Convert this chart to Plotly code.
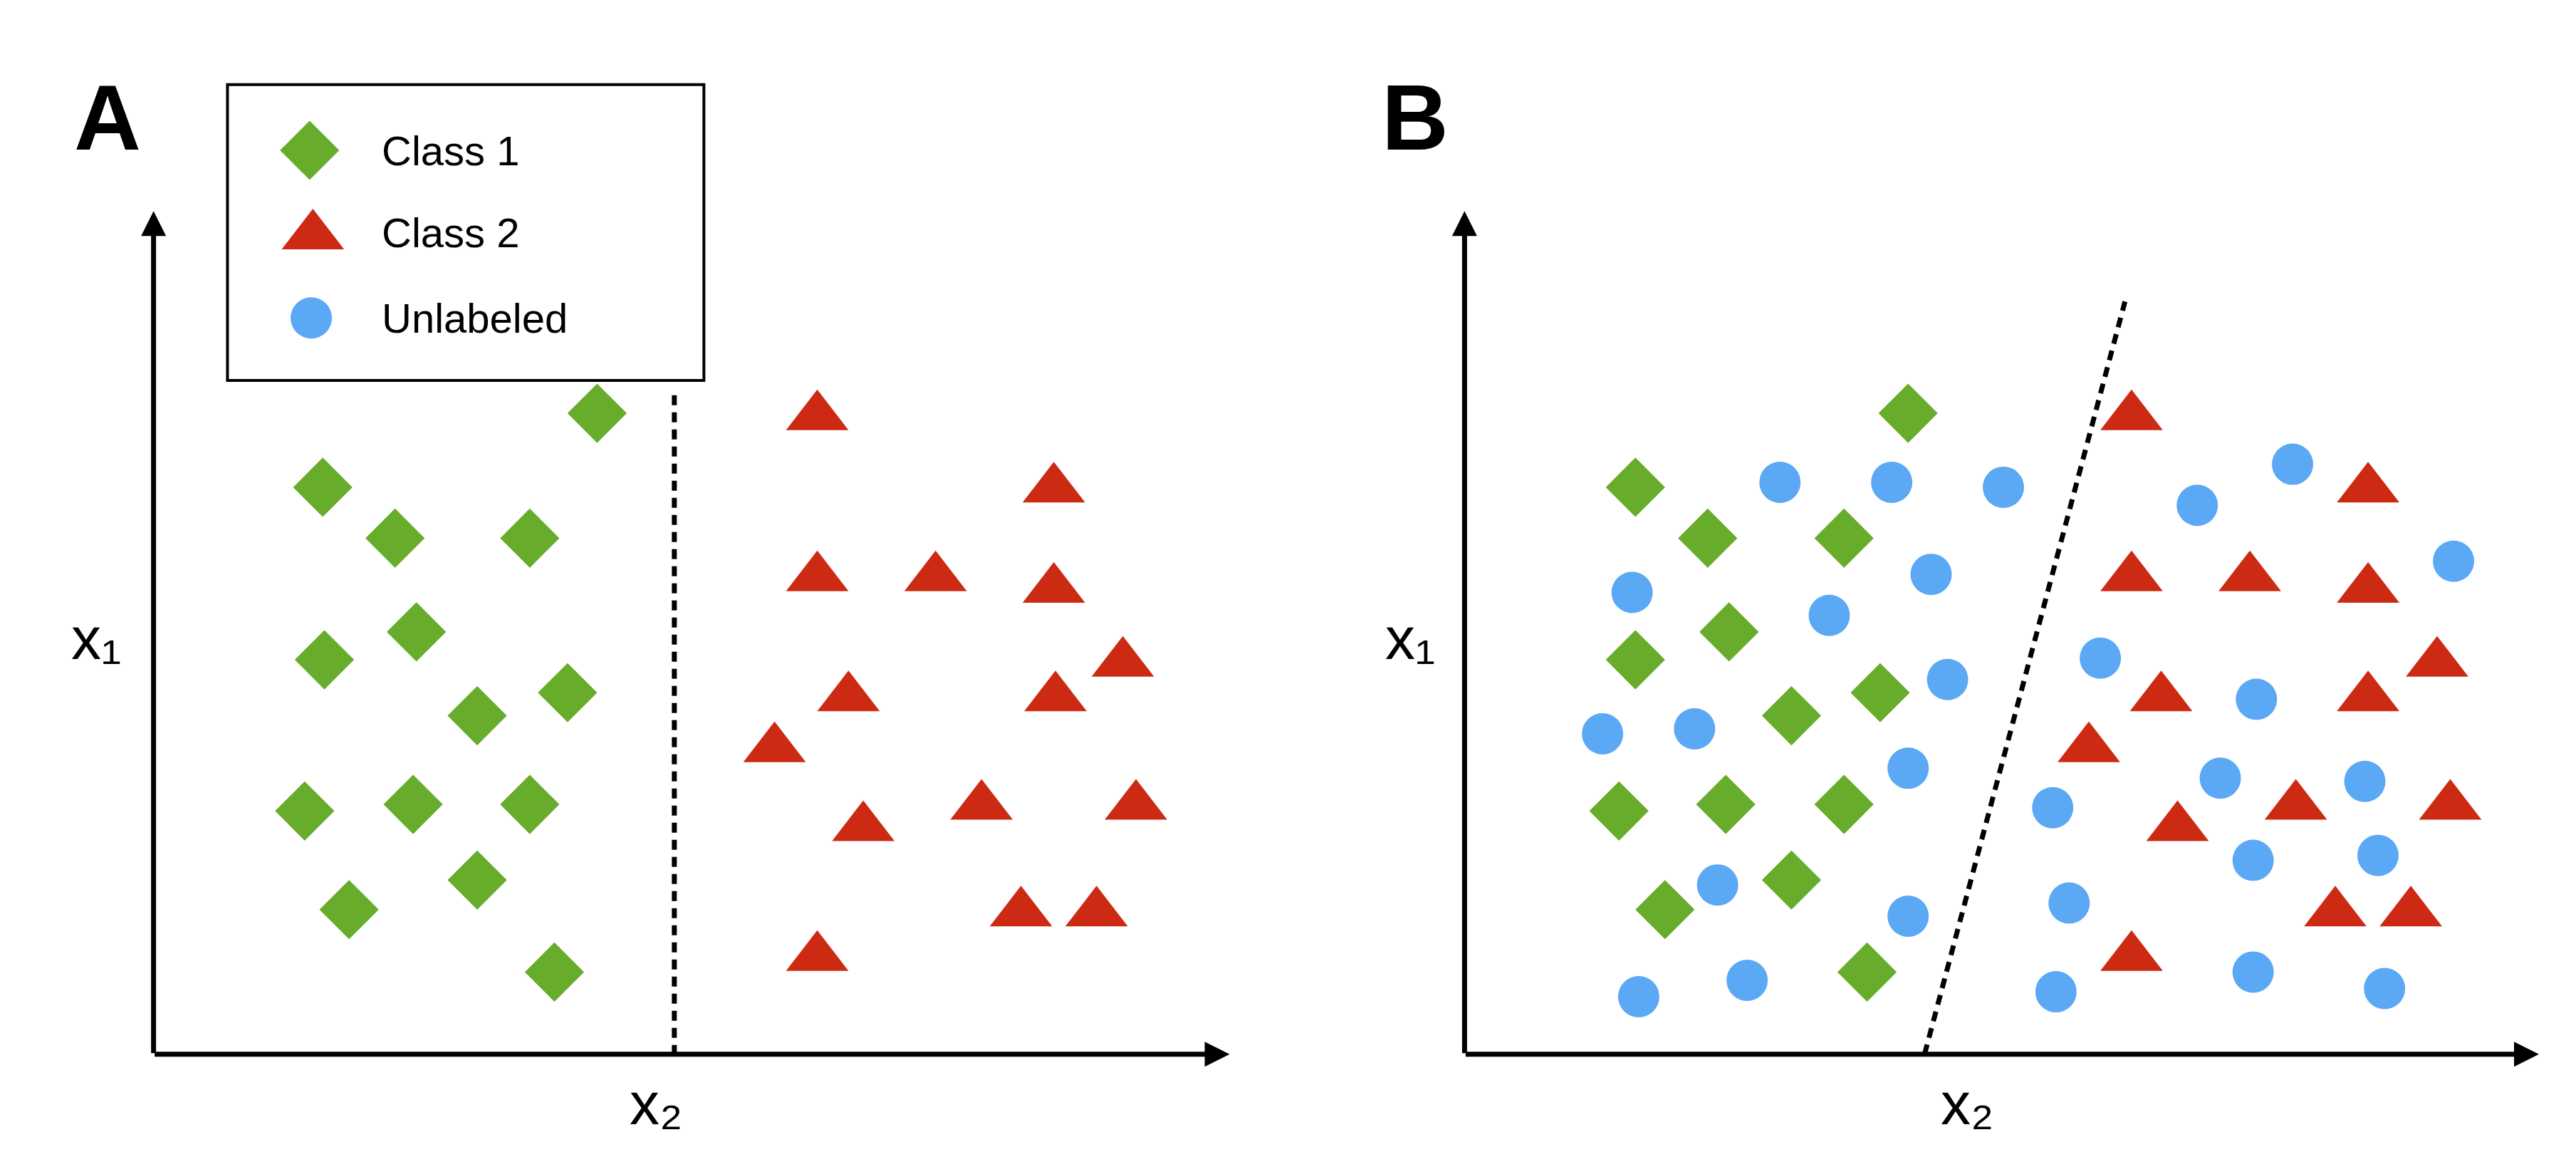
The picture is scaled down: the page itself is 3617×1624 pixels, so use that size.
import plotly.graph_objects as go

# coordinates in reference-image units (x right, y down), 1568 x 704 canvas
A_diamond_x = [360,193,237,319,250,194,342,287,182,248,319,287,209,334]
A_diamond_y = [248,293,324,324,381,398,418,432,490,486,486,532,550,588]
A_tri_x = [494,638,494,566,638,680,513,639,468,522,594,688,618,664,494]
A_tri_y = [250,294,348,348,355,400,421,421,452,500,487,487,552,552,579]
B_diamond_x = [1158,992,1036,1119,1049,992,1141,1087,982,1047,1119,1087,1010,1133]
B_diamond_y = A_diamond_y
B_tri_x = [1294,1438,1294,1366,1438,1480,1312,1438,1268,1322,1394,1488,1418,1464,1294]
B_tri_y = A_tri_y
B_circ_x = [1080,1148,1216,1334,1392,1490,990,1172,1110,1275,1182,972,1028,1370,1158,1348,1436,1246,1368,1444,1042,1256,1158,994,1060,1248,1368,1448]
B_circ_y = [290,290,293,304,279,338,357,346,371,397,410,443,440,422,464,470,472,488,520,517,535,546,554,603,593,600,588,598]
legend_labels = ["Class 1", "Class 2", "Unlabeled"]

GREEN, RED, BLUE = "#67ac2b", "#cc2a13", "#5ba8f5"
fig = go.Figure()
def mk(x, y, sym, col, size):
    fig.add_trace(go.Scatter(x=x, y=y, mode="markers", showlegend=False,
        marker=dict(symbol=sym, color=col, size=size, line=dict(width=0))))
DS, TS, CS = 64, 76, 58
mk(A_diamond_x, A_diamond_y, "diamond", GREEN, DS)
mk(A_tri_x, A_tri_y, "triangle-up", RED, TS)
mk(B_diamond_x, B_diamond_y, "diamond", GREEN, DS)
mk(B_tri_x, B_tri_y, "triangle-up", RED, TS)
mk(B_circ_x, B_circ_y, "circle", BLUE, CS)
# legend
mk([185], [88], "diamond", GREEN, DS)
mk([187], [140], "triangle-up", RED, TS)
mk([186], [190], "circle", BLUE, CS)
for lab, yy in zip(legend_labels, [88, 138, 190]):
    fig.add_annotation(x=228, y=yy, text=lab, showarrow=False, xanchor="left",
                       font=dict(size=58, color="black"))
fig.add_shape(type="rect", x0=135, y0=48, x1=425, y1=228, line=dict(color="black", width=4))

# dashed boundaries
fig.add_shape(type="line", x0=407, y0=237, x1=407, y1=638, line=dict(color="black", width=7, dash="14px,10px"))
fig.add_shape(type="line", x0=1168, y0=638, x1=1290, y1=180, line=dict(color="black", width=7, dash="14px,10px"))

# axes arrows
for ox, ex in [(90, 745), (888, 1542)]:
    for (x, y) in [(ex, 638), (ox, 125)]:
        fig.add_annotation(x=x, y=y, ax=ox, ay=638, xref="x", yref="y", axref="x", ayref="y",
                           showarrow=True, arrowhead=2, arrowsize=1, arrowwidth=7,
                           arrowcolor="black", text="")
for t, x in [("A", 62), ("B", 858)]:
    fig.add_annotation(x=x, y=68, text="<b>"+t+"</b>", showarrow=False,
                       font=dict(size=130, color="black", family="Liberation Sans"))
for x, y, t in [(55, 385, "x₁"), (396, 668, "x₂"), (855, 385, "x₁"), (1194, 668, "x₂")]:
    fig.add_annotation(x=x, y=y, text=t, showarrow=False, font=dict(size=84, color="black"))

fig.update_xaxes(range=[0, 1568], visible=False)
fig.update_yaxes(range=[704, 0], visible=False)
fig.update_layout(width=3617, height=1624, margin=dict(l=0, r=0, t=0, b=0),
                  plot_bgcolor="white", paper_bgcolor="white",
                  font=dict(family="Liberation Sans"))
fig.write_html("out.html")
